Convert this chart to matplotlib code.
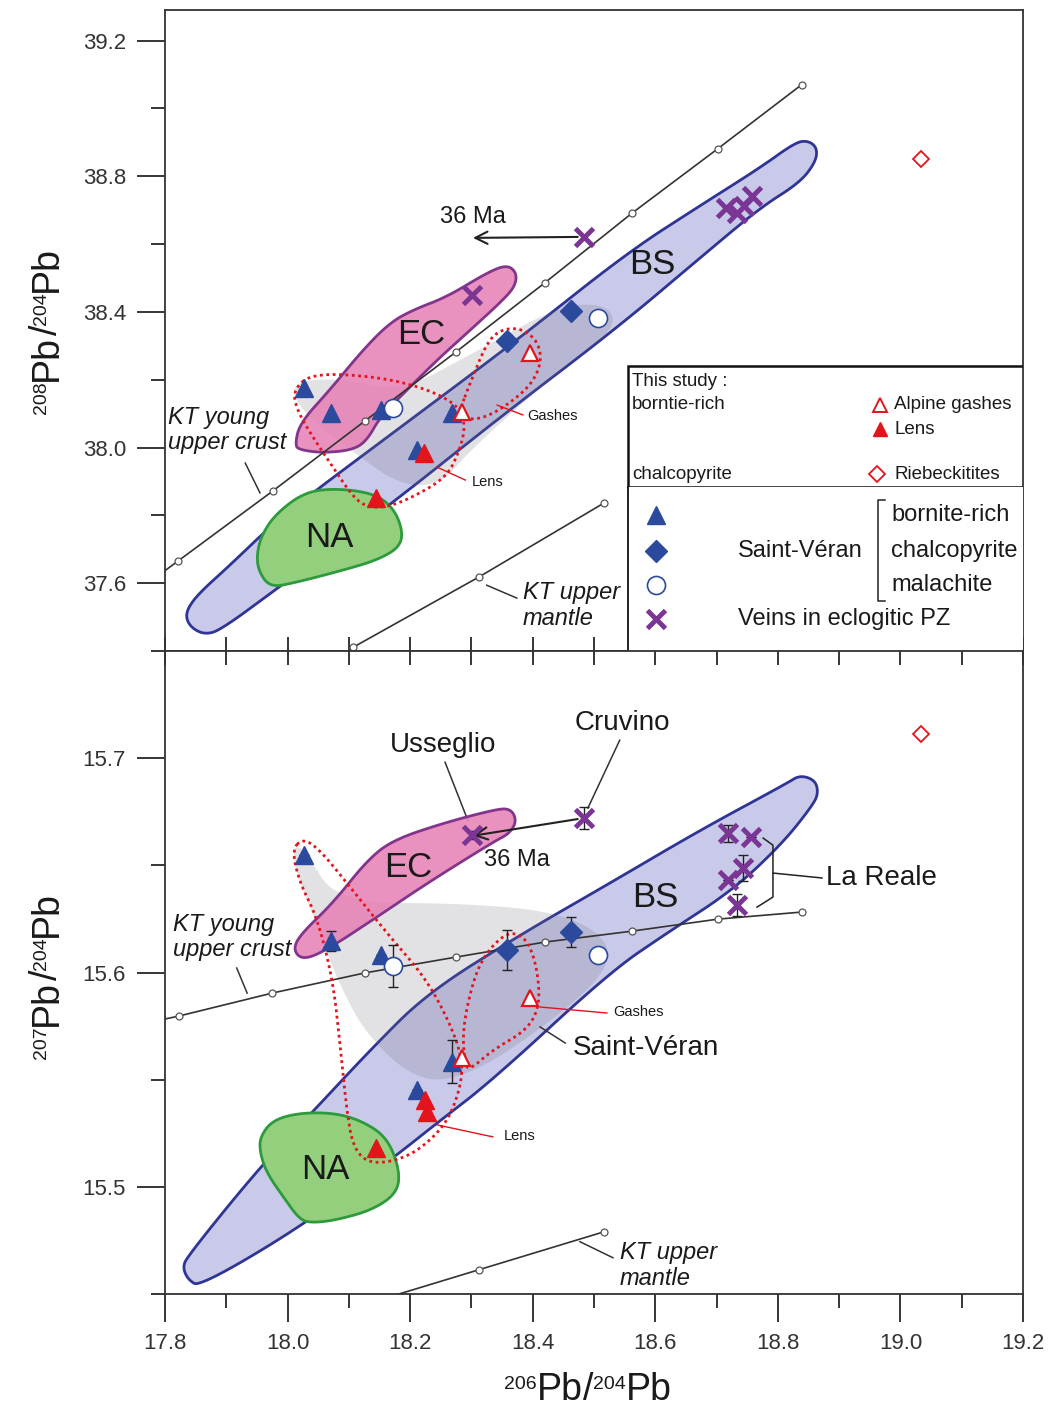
import numpy as np
import matplotlib
matplotlib.use('agg')
import matplotlib.pyplot as plt
from matplotlib.ticker import MultipleLocator, FixedLocator, FormatStrFormatter
from matplotlib.patches import Polygon, Rectangle
from matplotlib.transforms import IdentityTransform

plt.rcParams['font.family'] = ['Liberation Sans', 'DejaVu Sans']

# ---------------- data : 208Pb/204Pb vs 206Pb/204Pb (top) ----------------
sv_bornite_x = [18.027, 18.071, 18.152, 18.268, 18.211]
sv_bornite_y8 = [38.176, 38.102, 38.111, 38.102, 37.993]
sv_chalco_x = [18.358, 18.462]
sv_chalco_y8 = [38.314, 38.403]
sv_mala_x = [18.172, 18.507]
sv_mala_y8 = [38.117, 38.382]
veins_x8 = [18.484, 18.301, 18.715, 18.733, 18.745, 18.758]
veins_y8 = [38.621, 38.450, 38.707, 38.692, 38.713, 38.742]
lens_x8 = [18.223, 18.144]
lens_y8 = [37.984, 37.851]
gash_x8 = [18.285, 18.396]
gash_y8 = [38.105, 38.279]
rieb_x = [19.034]
rieb_y8 = [38.852]

# KT young upper crust / upper mantle curves (first point = where line leaves the frame)
kt_crust_x8 = [17.800, 17.821, 17.976, 18.126, 18.275, 18.420, 18.562, 18.702, 18.839]
kt_crust_y8 = [37.637, 37.665, 37.872, 38.078, 38.282, 38.486, 38.691, 38.881, 39.070]
kt_mantle_x8 = [18.107, 18.312, 18.516]
kt_mantle_y8 = [37.411, 37.618, 37.836]

# fields (outlines)
bs_x8 = [17.838, 17.857, 17.906, 17.988, 18.183, 18.379, 18.554, 18.673, 18.771, 18.828, 18.849, 18.864,
         18.862, 18.836, 18.771, 18.673, 18.538, 18.347, 18.167, 17.979, 17.890, 17.865, 17.844, 17.834]
bs_y8 = [37.529, 37.573, 37.653, 37.795, 38.058, 38.323, 38.574, 38.713, 38.825, 38.899, 38.905, 38.884,
         38.843, 38.781, 38.707, 38.559, 38.353, 38.090, 37.830, 37.579, 37.461, 37.449, 37.467, 37.497]
ec_x8 = [18.012, 18.020, 18.069, 18.123, 18.167, 18.205, 18.260, 18.325, 18.358, 18.374, 18.371, 18.347,
         18.293, 18.244, 18.195, 18.151, 18.130, 18.107, 18.058, 18.020]
ec_y8 = [38.007, 38.072, 38.170, 38.288, 38.368, 38.406, 38.444, 38.515, 38.539, 38.515, 38.474, 38.427,
         38.338, 38.258, 38.170, 38.090, 38.022, 37.993, 37.984, 37.993]
na_x8 = [17.950, 17.958, 17.979, 18.025, 18.074, 18.139, 18.172, 18.188, 18.183, 18.146, 18.090, 18.009, 17.971, 17.952]
na_y8 = [37.689, 37.742, 37.801, 37.866, 37.880, 37.866, 37.824, 37.756, 37.706, 37.668, 37.638, 37.600, 37.588, 37.638]
svf_x8 = [18.004, 18.086, 18.183, 18.298, 18.445, 18.526, 18.534, 18.445, 18.298, 18.249, 18.183, 18.102, 18.020]
svf_y8 = [38.193, 38.205, 38.164, 38.273, 38.421, 38.421, 38.347, 38.229, 37.993, 37.889, 37.889, 37.993, 38.111]
lensf_x8 = [18.009, 18.041, 18.151, 18.232, 18.281, 18.290, 18.281, 18.260, 18.205, 18.162, 18.130, 18.107, 18.074, 18.041, 18.015]
lensf_y8 = [38.170, 38.220, 38.208, 38.170, 38.120, 38.061, 37.993, 37.913, 37.854, 37.824, 37.824, 37.854, 37.942, 38.031, 38.111]
gashf_x8 = [18.281, 18.298, 18.325, 18.347, 18.379, 18.407, 18.415, 18.400, 18.363, 18.325, 18.293]
gashf_y8 = [38.111, 38.190, 38.309, 38.347, 38.353, 38.317, 38.258, 38.190, 38.131, 38.090, 38.081]

# ---------------- data : 207Pb/204Pb vs 206Pb/204Pb (bottom) ----------------
sv_bornite_y7 = [15.6548, 15.6147, 15.6082, 15.5583, 15.5452]
sv_bornite_e7 = [0.0, 0.0047, 0.0, 0.0100, 0.0]
sv_chalco_y7 = [15.6105, 15.6189]
sv_chalco_e7 = [0.0093, 0.0070]
sv_mala_y7 = [15.6030, 15.6082]
sv_mala_e7 = [0.0098, 0.0]
veins_x7 = [18.301, 18.484, 18.719, 18.756, 18.743, 18.719, 18.733]
veins_y7 = [15.6641, 15.6720, 15.6650, 15.6632, 15.6487, 15.6431, 15.6315]
veins_e7 = [0.0020, 0.0050, 0.0040, 0.0, 0.0060, 0.0, 0.0050]
lens_x7 = [18.144, 18.224, 18.228]
lens_y7 = [15.5182, 15.5406, 15.5350]
gash_y7 = [15.5601, 15.5881]
rieb_y7 = [15.7112]

kt_crust_x7 = [17.800, 17.823, 17.975, 18.126, 18.275, 18.420, 18.562, 18.702, 18.839]
kt_crust_y7 = [15.5783, 15.5797, 15.5904, 15.5998, 15.6072, 15.6142, 15.6193, 15.6249, 15.6282]
kt_mantle_y7 = [15.4435, 15.4613, 15.4790]

bs_x7 = [17.836, 17.955, 18.041, 18.135, 18.228, 18.379, 18.526, 18.673, 18.815, 18.836, 18.861, 18.866,
         18.857, 18.808, 18.727, 18.619, 18.526, 18.335, 18.244, 18.183, 18.032, 17.857, 17.838, 17.829]
bs_y7 = [15.4674, 15.5093, 15.5350, 15.5639, 15.5904, 15.6175, 15.6417, 15.6664, 15.6883, 15.6921, 15.6897, 15.6837,
         15.6781, 15.6604, 15.6385, 15.6184, 15.6002, 15.5499, 15.5298, 15.5159, 15.4832, 15.4534, 15.4566, 15.4622]
ec_x7 = [18.009, 18.020, 18.074, 18.130, 18.172, 18.254, 18.335, 18.363, 18.374, 18.363, 18.335, 18.228, 18.146, 18.064, 18.025]
ec_y7 = [15.6105, 15.6175, 15.6324, 15.6524, 15.6618, 15.6697, 15.6758, 15.6767, 15.6711, 15.6650, 15.6608,
         15.6417, 15.6259, 15.6105, 15.6058]
na_x7 = [17.955, 17.976, 18.020, 18.074, 18.118, 18.162, 18.183, 18.179, 18.139, 18.081, 18.041, 18.020, 17.993, 17.966, 17.955]
na_y7 = [15.5233, 15.5312, 15.5345, 15.5345, 15.5312, 15.5233, 15.5079, 15.4972, 15.4893, 15.4846, 15.4832,
         15.4846, 15.4953, 15.5065, 15.5159]
svf_x7 = [18.009, 18.028, 18.081, 18.281, 18.445, 18.526, 18.518, 18.412, 18.298, 18.216, 18.130, 18.081, 18.045, 18.012]
svf_y7 = [15.6594, 15.6571, 15.6324, 15.6324, 15.6282, 15.6152, 15.5988, 15.5732, 15.5522, 15.5485, 15.5699,
          15.5965, 15.6245, 15.6478]
lensf_x7 = [18.007, 18.025, 18.053, 18.097, 18.162, 18.228, 18.270, 18.286, 18.281, 18.260, 18.216, 18.172,
            18.130, 18.107, 18.097, 18.086, 18.074, 18.048, 18.020]
lensf_y7 = [15.6571, 15.6627, 15.6571, 15.6417, 15.6184, 15.5965, 15.5732, 15.5578, 15.5452, 15.5298, 15.5173,
            15.5117, 15.5112, 15.5187, 15.5345, 15.5653, 15.5965, 15.6259, 15.6417]
gashf_x7 = [18.290, 18.285, 18.303, 18.322, 18.347, 18.368, 18.391, 18.407, 18.412, 18.391, 18.335, 18.301]
gashf_y7 = [15.5555, 15.5732, 15.5965, 15.6082, 15.6161, 15.6189, 15.6152, 15.6026, 15.5848, 15.5732, 15.5639, 15.5555]

BLUE = '#2b4a9e'
RED = '#e3141c'
PURPLE = '#7a3595'
TXT = '#1a1a1a'


def smooth(xs, ys, n=4):
    # chaikin corner cutting, closed outline
    pts = np.column_stack([xs, ys]).astype(float)
    for _ in range(n):
        nxt = np.roll(pts, -1, axis=0)
        q = 0.75 * pts + 0.25 * nxt
        r = 0.25 * pts + 0.75 * nxt
        new = np.empty((2 * len(pts), 2))
        new[0::2] = q
        new[1::2] = r
        pts = new
    return pts


def field(ax, xs, ys, fc, ec, lw=2.0, alpha=1.0, z=1, ls='-'):
    pts = smooth(xs, ys)
    if fc is not None:
        ax.add_patch(Polygon(pts, closed=True, facecolor=fc, edgecolor='none', alpha=alpha, zorder=z))
    if ec is not None:
        ax.add_patch(Polygon(pts, closed=True, facecolor='none', edgecolor=ec, lw=lw, ls=ls, zorder=z + 0.5))


def style_axis(ax):
    for s in ax.spines.values():
        s.set_linewidth(1.3)
        s.set_color('#333333')
    ax.set_xlim(17.8, 19.2)
    ax.tick_params(axis='y', which='major', direction='out', length=20, width=1.1, labelsize=16,
                   labelcolor='#333333', pad=8, right=False)
    ax.tick_params(axis='y', which='minor', direction='out', length=10, width=1.1, right=False)


def iso_label(fig, parts, x0, y0, vertical=False):
    # isotope ratio label with small superscripts, x0/y0 in pixels (centre along text, baseline across)
    r = fig.canvas.get_renderer()
    placed = []
    pos = 0.0
    for s, size, rise in parts:
        t = fig.text(0, 0, s, fontsize=size, color=TXT, transform=IdentityTransform(),
                     ha='left', va='baseline', rotation=90 if vertical else 0, rotation_mode='anchor')
        ext = t.get_window_extent(r)
        placed.append((t, pos, rise))
        pos += ext.height if vertical else ext.width
    for t, p, rise in placed:
        if vertical:
            t.set_position((x0 - rise, y0 - pos / 2 + p))
        else:
            t.set_position((x0 - pos / 2 + p, y0 + rise))


def ratio_parts(num):
    return [(num, 14, 11), ('Pb', 27, 0), ('/', 27, 0), ('204', 14, 11), ('Pb', 27, 0)]


fig = plt.figure(figsize=(10.55, 14.12), dpi=100)
ax1 = fig.add_axes([0.1564, 0.53895, 0.81327, 0.45397])
ax2 = fig.add_axes([0.1564, 0.08357, 0.81327, 0.45538])

# ================= top panel =================
ax1.set_ylim(37.4, 39.29)
style_axis(ax1)
ax1.yaxis.set_major_locator(FixedLocator([37.6, 38.0, 38.4, 38.8, 39.2]))
ax1.yaxis.set_minor_locator(FixedLocator([37.4, 37.8, 38.2, 38.6, 39.0]))
ax1.yaxis.set_major_formatter(FormatStrFormatter('%.1f'))
ax1.xaxis.set_major_locator(MultipleLocator(0.1))
ax1.tick_params(axis='x', which='both', direction='in', length=10, width=1.1, labelbottom=False, top=False)

field(ax1, bs_x8, bs_y8, '#c9c9e9', '#2f3595', z=1)
field(ax1, svf_x8, svf_y8, '#6f6f80', None, alpha=0.2, z=2)
field(ax1, ec_x8, ec_y8, '#e683b6', '#83358c', alpha=0.88, z=3)
field(ax1, na_x8, na_y8, '#93cf7d', '#2d9a3c', z=3)
field(ax1, lensf_x8, lensf_y8, None, RED, lw=2.0, z=6, ls=(0, (1, 1.3)))
field(ax1, gashf_x8, gashf_y8, None, RED, lw=2.0, z=6, ls=(0, (1, 1.3)))

ax1.plot(kt_crust_x8, kt_crust_y8, color='#333333', lw=1.2, zorder=5)
ax1.plot(kt_crust_x8[1:], kt_crust_y8[1:], 'o', ms=5, mfc='white', mec='#555555', mew=0.9, zorder=5)
ax1.plot(kt_mantle_x8, kt_mantle_y8, color='#333333', lw=1.2, zorder=5)
ax1.plot(kt_mantle_x8, kt_mantle_y8, 'o', ms=5, mfc='white', mec='#555555', mew=0.9, zorder=5)

ax1.plot(sv_bornite_x, sv_bornite_y8, '^', ms=13, color=BLUE, mec=BLUE, zorder=8)
ax1.plot(sv_chalco_x, sv_chalco_y8, 'D', ms=11, color=BLUE, mec=BLUE, zorder=8)
ax1.plot(sv_mala_x, sv_mala_y8, 'o', ms=13, mfc='white', mec=BLUE, mew=1.2, zorder=8)
ax1.plot(veins_x8, veins_y8, 'x', ms=13, mew=3.5, color=PURPLE, zorder=8)
ax1.plot(lens_x8, lens_y8, '^', ms=13, color=RED, mec=RED, zorder=9)
ax1.plot(gash_x8, gash_y8, '^', ms=11, mfc='white', mec=RED, mew=1.6, zorder=9)
ax1.plot(rieb_x, rieb_y8, 'D', ms=8, mfc='white', mec=RED, mew=1.3, zorder=9)

ax1.annotate('', xy=(18.298, 38.618), xytext=(18.478, 38.621),
             arrowprops=dict(arrowstyle='->', lw=1.5, color='#222222', mutation_scale=22), zorder=7)
ax1.text(18.303, 38.680, '36 Ma', fontsize=17, ha='center', va='center', color=TXT)
ax1.text(18.595, 38.539, 'BS', fontsize=25, ha='center', va='center', color=TXT, zorder=10)
ax1.text(18.218, 38.332, 'EC', fontsize=25, ha='center', va='center', color=TXT, zorder=10)
ax1.text(18.068, 37.736, 'NA', fontsize=25, ha='center', va='center', color=TXT, zorder=10)
ax1.text(17.805, 38.052, 'KT young\nupper crust', fontsize=17, style='italic', ha='left', va='center',
         color=TXT, linespacing=1.15, zorder=10)
ax1.plot([17.931, 17.955], [37.954, 37.866], color='#333333', lw=1.1)
ax1.text(18.384, 37.535, 'KT upper\nmantle', fontsize=17, style='italic', ha='left', va='center',
         color=TXT, linespacing=1.15, zorder=10)
ax1.plot([18.325, 18.374], [37.594, 37.556], color='#333333', lw=1.1)
ax1.text(18.391, 38.093, 'Gashes', fontsize=10.5, ha='left', va='center', color=TXT)
ax1.plot([18.342, 18.384], [38.125, 38.096], color=RED, lw=1.0, zorder=7)
ax1.text(18.301, 37.898, 'Lens', fontsize=10.5, ha='left', va='center', color=TXT)
ax1.plot([18.244, 18.290], [37.942, 37.904], color=RED, lw=1.0, zorder=7)

# legend boxes (axes fraction)
T = ax1.transAxes
ax1.add_patch(Rectangle((0.5396, 0.2559), 0.4604, 0.1887, transform=T, facecolor='white',
                        edgecolor='#111111', lw=1.8, zorder=11))
ax1.add_patch(Rectangle((0.5396, 0.0), 0.4604, 0.2559, transform=T, facecolor='white',
                        edgecolor='none', zorder=11))
ax1.plot([0.5396, 0.5396], [0.0, 0.2559], transform=T, color='#111111', lw=1.3, zorder=12)
lt = dict(transform=T, ha='left', va='center', color=TXT, zorder=12)
ax1.text(0.5443, 0.4197, 'This study :', fontsize=13.5, **lt)
ax1.text(0.5443, 0.3838, 'borntie-rich', fontsize=13.5, **lt)
ax1.text(0.5443, 0.2746, 'chalcopyrite', fontsize=13.5, **lt)
ax1.plot([0.8333], [0.3838], '^', ms=10, mfc='white', mec=RED, mew=1.4, transform=T, zorder=12, clip_on=False)
ax1.plot([0.8333], [0.3463], '^', ms=10, color=RED, transform=T, zorder=12, clip_on=False)
ax1.plot([0.8298], [0.2761], 'D', ms=8, mfc='white', mec=RED, mew=1.3, transform=T, zorder=12, clip_on=False)
ax1.text(0.8497, 0.3838, 'Alpine gashes', fontsize=13.5, **lt)
ax1.text(0.8497, 0.3463, 'Lens', fontsize=13.5, **lt)
ax1.text(0.8497, 0.2761, 'Riebeckitites', fontsize=13.5, **lt)
ax1.plot([0.5723], [0.2122], '^', ms=13, color=BLUE, transform=T, zorder=12, clip_on=False)
ax1.plot([0.5723], [0.1560], 'D', ms=11, color=BLUE, transform=T, zorder=12, clip_on=False)
ax1.plot([0.5723], [0.1030], 'o', ms=13, mfc='white', mec=BLUE, mew=1.2, transform=T, zorder=12, clip_on=False)
ax1.plot([0.5723], [0.0499], 'x', ms=13, mew=3.5, color=PURPLE, transform=T, zorder=12, clip_on=False)
ax1.text(0.6678, 0.1560, 'Saint-Véran', fontsize=17, **lt)
ax1.text(0.6678, 0.0499, 'Veins in eclogitic PZ', fontsize=17, **lt)
ax1.plot([0.8392, 0.8310, 0.8310, 0.8392], [0.2356, 0.2356, 0.0780, 0.0780], transform=T,
         color='#222222', lw=1.1, zorder=12)
ax1.text(0.8462, 0.2122, 'bornite-rich', fontsize=17, **lt)
ax1.text(0.8462, 0.1560, 'chalcopyrite', fontsize=17, **lt)
ax1.text(0.8462, 0.1030, 'malachite', fontsize=17, **lt)

# ================= bottom panel =================
ax2.set_ylim(15.45, 15.75)
style_axis(ax2)
ax2.yaxis.set_major_locator(FixedLocator([15.5, 15.6, 15.7]))
ax2.yaxis.set_minor_locator(FixedLocator([15.45, 15.55, 15.65]))
ax2.yaxis.set_major_formatter(FormatStrFormatter('%.1f'))
ax2.xaxis.set_major_locator(MultipleLocator(0.2))
ax2.xaxis.set_minor_locator(MultipleLocator(0.1))
ax2.xaxis.set_major_formatter(FormatStrFormatter('%.1f'))
ax2.tick_params(axis='x', which='major', direction='out', length=20, width=1.1, labelsize=16,
                labelcolor='#333333', pad=8)
ax2.tick_params(axis='x', which='minor', direction='out', length=10, width=1.1)
ax2t = ax2.secondary_xaxis('top')
ax2t.xaxis.set_major_locator(MultipleLocator(0.1))
ax2t.tick_params(axis='x', direction='in', length=10, width=1.1, labeltop=False)
ax2t.spines['top'].set_visible(False)

field(ax2, bs_x7, bs_y7, '#c9c9e9', '#2f3595', z=1)
field(ax2, svf_x7, svf_y7, '#6f6f80', None, alpha=0.2, z=2)
field(ax2, ec_x7, ec_y7, '#e683b6', '#83358c', alpha=0.88, z=3)
field(ax2, na_x7, na_y7, '#93cf7d', '#2d9a3c', z=3)
field(ax2, lensf_x7, lensf_y7, None, RED, lw=2.0, z=6, ls=(0, (1, 1.3)))
field(ax2, gashf_x7, gashf_y7, None, RED, lw=2.0, z=6, ls=(0, (1, 1.3)))

ax2.plot(kt_crust_x7, kt_crust_y7, color='#333333', lw=1.2, zorder=5)
ax2.plot(kt_crust_x7[1:], kt_crust_y7[1:], 'o', ms=5, mfc='white', mec='#555555', mew=0.9, zorder=5)
ax2.plot(kt_mantle_x8, kt_mantle_y7, color='#333333', lw=1.2, zorder=5)
ax2.plot(kt_mantle_x8, kt_mantle_y7, 'o', ms=5, mfc='white', mec='#555555', mew=0.9, zorder=5)

eb = dict(fmt='none', ecolor='#222222', elinewidth=1.0, capsize=3.5, capthick=1.0, zorder=7)
ax2.errorbar(sv_bornite_x, sv_bornite_y7, yerr=sv_bornite_e7, **eb)
ax2.errorbar(sv_chalco_x, sv_chalco_y7, yerr=sv_chalco_e7, **eb)
ax2.errorbar(sv_mala_x, sv_mala_y7, yerr=sv_mala_e7, **eb)
ax2.errorbar(veins_x7, veins_y7, yerr=veins_e7, **eb)
ax2.plot(sv_bornite_x, sv_bornite_y7, '^', ms=13, color=BLUE, zorder=8)
ax2.plot(sv_chalco_x, sv_chalco_y7, 'D', ms=11, color=BLUE, zorder=8)
ax2.plot(sv_mala_x, sv_mala_y7, 'o', ms=13, mfc='white', mec=BLUE, mew=1.2, zorder=8)
ax2.plot(veins_x7, veins_y7, 'x', ms=13, mew=3.5, color=PURPLE, zorder=8)
ax2.plot(lens_x7, lens_y7, '^', ms=13, color=RED, zorder=9)
ax2.plot(gash_x8, gash_y7, '^', ms=11, mfc='white', mec=RED, mew=1.6, zorder=9)
ax2.plot(rieb_x, rieb_y7, 'D', ms=8, mfc='white', mec=RED, mew=1.3, zorder=9)

ax2.annotate('', xy=(18.298, 15.6636), xytext=(18.478, 15.6718),
             arrowprops=dict(arrowstyle='->', lw=1.5, color='#222222', mutation_scale=22), zorder=7)
ax2.text(18.374, 15.6524, '36 Ma', fontsize=17, ha='center', va='center', color=TXT, zorder=10)
ax2.text(18.254, 15.7061, 'Usseglio', fontsize=20, ha='center', va='center', color=TXT)
ax2.plot([18.257, 18.294], [15.6981, 15.6711], color='#333333', lw=1.1)
ax2.text(18.547, 15.7163, 'Cruvino', fontsize=20, ha='center', va='center', color=TXT)
ax2.plot([18.542, 18.490], [15.7084, 15.6767], color='#333333', lw=1.1)
ax2.text(18.197, 15.6492, 'EC', fontsize=25, ha='center', va='center', color=TXT, zorder=10)
ax2.text(18.600, 15.6352, 'BS', fontsize=25, ha='center', va='center', color=TXT, zorder=10)
ax2.text(18.061, 15.5079, 'NA', fontsize=25, ha='center', va='center', color=TXT, zorder=10)
ax2.text(17.813, 15.6166, 'KT young\nupper crust', fontsize=17, style='italic', ha='left', va='center',
         color=TXT, linespacing=1.15, zorder=10)
ax2.plot([17.917, 17.934], [15.6021, 15.5904], color='#333333', lw=1.1)
ax2.text(18.542, 15.4632, 'KT upper\nmantle', fontsize=17, style='italic', ha='left', va='center',
         color=TXT, linespacing=1.15, zorder=10)
ax2.plot([18.477, 18.531], [15.4744, 15.4669], color='#333333', lw=1.1)
ax2.text(18.466, 15.5648, 'Saint-Véran', fontsize=20, ha='left', va='center', color=TXT)
ax2.plot([18.412, 18.453], [15.5746, 15.5671], color='#333333', lw=1.1)
ax2.text(18.531, 15.5816, 'Gashes', fontsize=10.5, ha='left', va='center', color=TXT)
ax2.plot([18.412, 18.521], [15.5839, 15.5811], color=RED, lw=1.0, zorder=7)
ax2.text(18.352, 15.5238, 'Lens', fontsize=10.5, ha='left', va='center', color=TXT)
ax2.plot([18.244, 18.335], [15.5289, 15.5233], color=RED, lw=1.0, zorder=7)
ax2.text(18.879, 15.6441, 'La Reale', fontsize=20, ha='left', va='center', color=TXT)
ax2.plot([18.776, 18.792, 18.792, 18.766], [15.6627, 15.6594, 15.6352, 15.6305], color='#222222', lw=1.1)
ax2.plot([18.792, 18.872], [15.6464, 15.6441], color='#222222', lw=1.1)

# axis titles with small-print mass numbers (pixel positions, origin bottom-left)
iso_label(fig, ratio_parts('208'), 57, 1082, vertical=True)
iso_label(fig, ratio_parts('207'), 57, 437, vertical=True)
iso_label(fig, ratio_parts('206'), 588, 12)

fig.savefig('out.png', dpi=100, facecolor='white')
